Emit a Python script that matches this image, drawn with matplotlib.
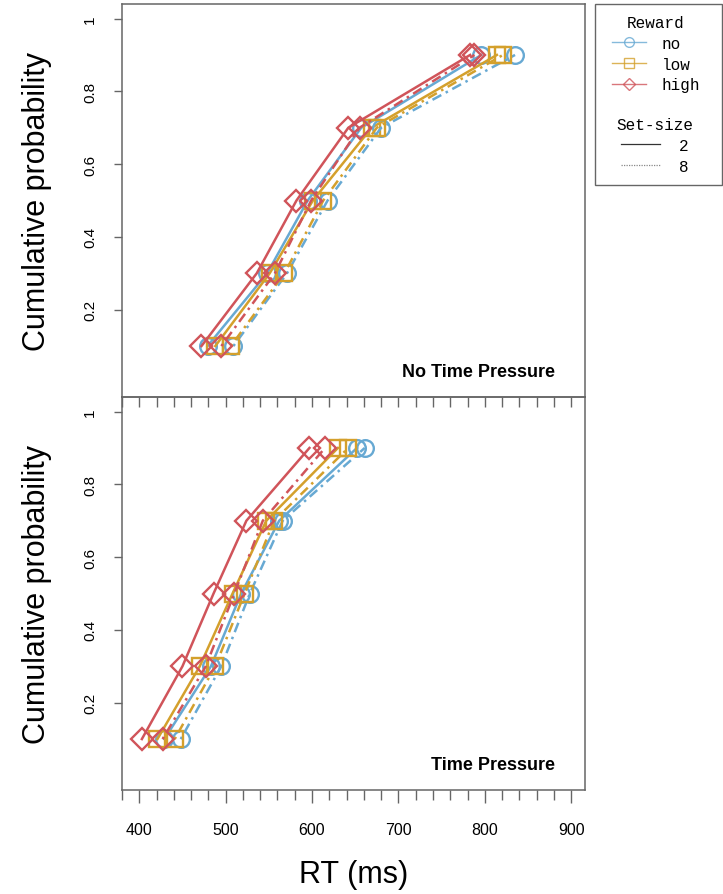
import matplotlib
matplotlib.use("Agg")
import matplotlib.pyplot as plt
from matplotlib.lines import Line2D
from matplotlib.patches import Rectangle
from matplotlib.ticker import MultipleLocator

# ---- data ----
quantiles = [0.1, 0.3, 0.5, 0.7, 0.9]

ntp_no_2 = [479, 548, 595, 657, 796]
ntp_no_8 = [509, 571, 618, 680, 835]
ntp_low_2 = [488, 551, 601, 669, 814]
ntp_low_8 = [506, 568, 613, 675, 821]
ntp_high_2 = [472, 536, 582, 642, 783]
ntp_high_8 = [495, 557, 599, 655, 788]

tp_no_2 = [429, 483, 518, 562, 652]
tp_no_8 = [448, 495, 528, 566, 661]
tp_low_2 = [421, 470, 508, 547, 630]
tp_low_8 = [441, 488, 522, 556, 642]
tp_high_2 = [403, 450, 486, 524, 597]
tp_high_8 = [427, 477, 510, 543, 615]

reward_labels = ["no", "low", "high"]
setsize_labels = ["2", "8"]
panel_titles = ["No Time Pressure", "Time Pressure"]
xticks = [400, 500, 600, 700, 800, 900]
yticks = [0.2, 0.4, 0.6, 0.8, 1.0]
ytick_labels = ["0.2", "0.4", "0.6", "0.8", "1"]

# ---- style ----
colors = {"no": "#67a9d3", "low": "#d4a02c", "high": "#d0545a"}
markers = {"no": "o", "low": "s", "high": "D"}
msizes = {"no": 12, "low": 11.5, "high": 11}
dashdot = (0, (1, 2, 4, 2))
styles = {"2": "-", "8": dashdot}
frame_col = "#666666"
sans = ["Liberation Sans", "DejaVu Sans"]
mono = ["Liberation Mono", "DejaVu Sans Mono"]

W, H = 723, 895
fig = plt.figure(figsize=(W / 100, H / 100), dpi=100)
fig.patch.set_facecolor("white")

left, right = 122, 585
ax_top = fig.add_axes([left / W, 1 - 398 / H, (right - left) / W, 393 / H])
ax_bot = fig.add_axes([left / W, 1 - 791 / H, (right - left) / W, 393 / H])
ax_bot.patch.set_visible(False)
ax_top.set_zorder(2)
ax_top.patch.set_visible(False)

panels = [
    (ax_top, {"no": {"2": ntp_no_2, "8": ntp_no_8},
              "low": {"2": ntp_low_2, "8": ntp_low_8},
              "high": {"2": ntp_high_2, "8": ntp_high_8}}),
    (ax_bot, {"no": {"2": tp_no_2, "8": tp_no_8},
              "low": {"2": tp_low_2, "8": tp_low_8},
              "high": {"2": tp_high_2, "8": tp_high_8}}),
]

for i, (ax, data) in enumerate(panels):
    for ss in setsize_labels:
        for rw in reward_labels:
            ax.plot(data[rw][ss], quantiles, color=colors[rw],
                    linestyle=styles[ss], linewidth=1.8,
                    marker=markers[rw], markersize=msizes[rw],
                    markerfacecolor="none", markeredgecolor=colors[rw],
                    markeredgewidth=1.7)
    ax.set_xlim(380, 916)
    ax.set_ylim(-0.04, 1.04)
    ax.set_yticks(yticks)
    ax.set_yticklabels(ytick_labels, rotation=90, va="center",
                       fontsize=11, family=sans)
    ax.tick_params(axis="y", direction="out", length=6, width=1,
                   color=frame_col, pad=12)
    ax.xaxis.set_major_locator(MultipleLocator(100))
    ax.xaxis.set_minor_locator(MultipleLocator(20))
    for sp in ax.spines.values():
        sp.set_color(frame_col)
        sp.set_linewidth(1.1)
    ax.set_ylabel("Cumulative probability", fontsize=22, family=sans,
                  labelpad=22)
    ax.text(0.935, 0.065 if i == 0 else 0.065, panel_titles[i],
            transform=ax.transAxes, ha="right", va="center",
            fontsize=13, fontweight="bold", family=sans)

ax_top.tick_params(axis="x", which="both", direction="out", length=7,
                   width=1, color=frame_col, labelbottom=False)
ax_bot.tick_params(axis="x", which="major", direction="out", length=9,
                   width=1, color=frame_col, pad=14, labelsize=11.5)
ax_bot.tick_params(axis="x", which="minor", direction="out", length=7,
                   width=1, color=frame_col)
ax_bot.set_xticks(xticks)
for lab in ax_bot.get_xticklabels():
    lab.set_family(sans)
ax_bot.set_xlabel("RT (ms)", fontsize=22, family=sans, labelpad=16)

# ---- legend ----
fig.add_artist(Rectangle((595 / W, 1 - 186 / H), 127 / W, 181 / H,
                         transform=fig.transFigure, fill=False,
                         edgecolor=frame_col, linewidth=1.0))
rw_handles = [Line2D([], [], color=colors[rw], linewidth=1.0,
                     marker=markers[rw], markersize=7 if rw != "high" else 6,
                     markerfacecolor="none", markeredgewidth=1.0,
                     alpha=0.8)
              for rw in reward_labels]
leg1 = fig.legend(rw_handles, reward_labels, title="Reward",
                  loc="upper center", bbox_to_anchor=(656 / W, 1 - 10 / H),
                  frameon=False, prop={"family": mono, "size": 11.5},
                  title_fontproperties={"family": mono, "size": 11.5},
                  handlelength=2.1, handletextpad=1.0, labelspacing=0.35,
                  borderaxespad=0, alignment="center")
ss_handles = [Line2D([], [], color="#333333", linewidth=0.9, linestyle="-"),
              Line2D([], [], color="#888888", linewidth=0.9,
                     linestyle=(0, (1, 1)))]
leg2 = fig.legend(ss_handles, setsize_labels, title="Set-size",
                  loc="upper center", bbox_to_anchor=(655 / W, 1 - 112 / H),
                  frameon=False, prop={"family": mono, "size": 11.5},
                  title_fontproperties={"family": mono, "size": 11.5},
                  handlelength=2.4, handletextpad=1.2, labelspacing=0.35,
                  borderaxespad=0, alignment="center")

fig.savefig("out.png", dpi=100)
